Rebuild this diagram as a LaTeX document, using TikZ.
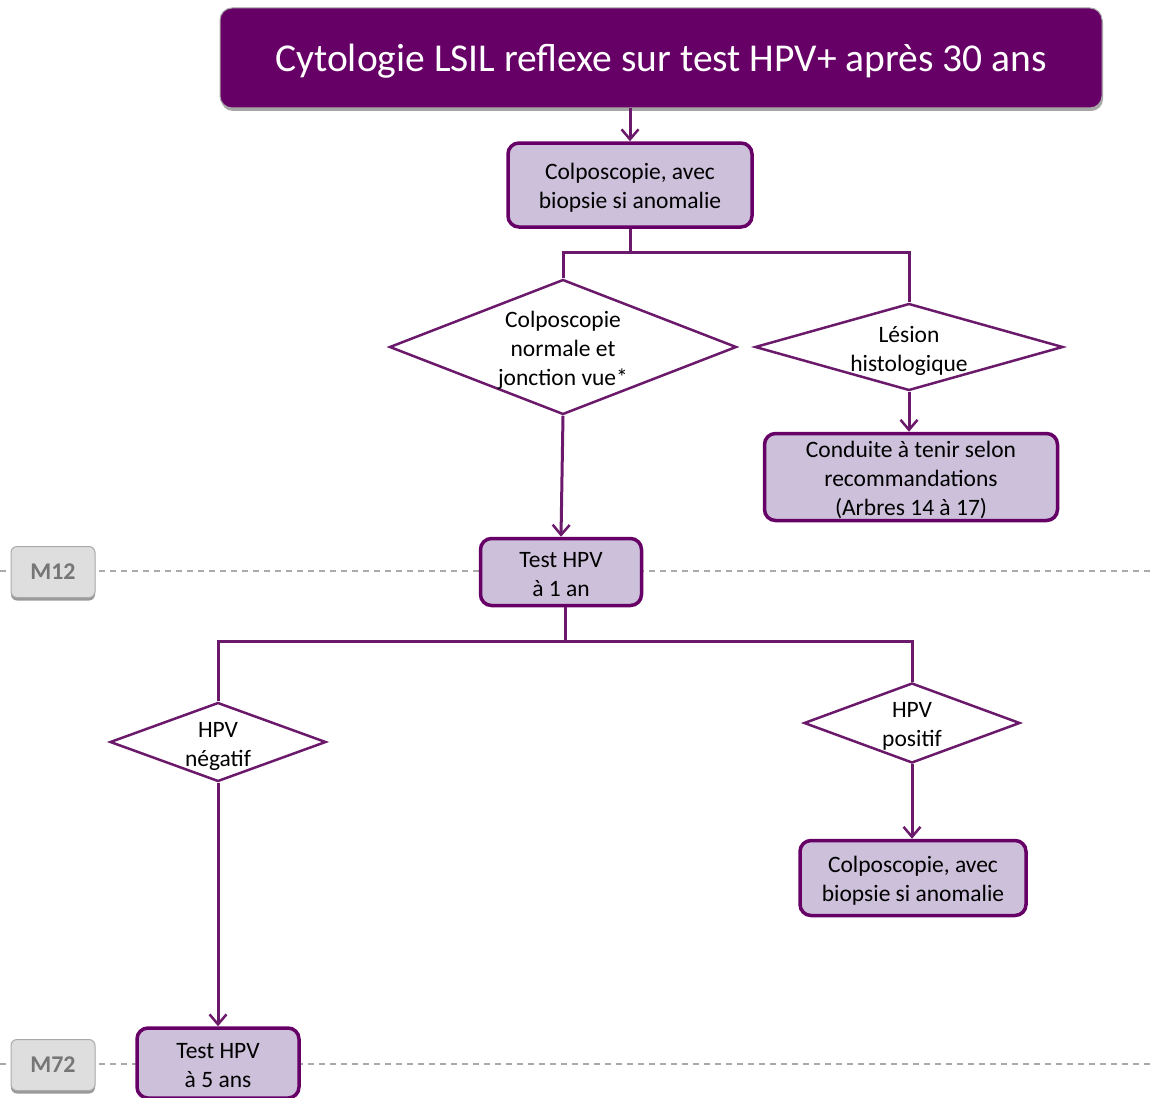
\documentclass[tikz,border=0pt]{standalone}
\usepackage{fontspec}
\setmainfont{Carlito}
\usetikzlibrary{arrows.meta,shapes.geometric,shadows}
\definecolor{pdark}{HTML}{660066}
\definecolor{pline}{HTML}{6B1A6B}
\definecolor{pfill}{HTML}{CCC0DA}
\definecolor{gfill}{HTML}{DEDEDE}
\definecolor{gdraw}{HTML}{AAAAAA}
\definecolor{gtext}{HTML}{767676}
\tikzset{
  titlebox/.style={draw=gdraw, line width=1pt, fill=pdark, rounded corners=12pt, text=white,
    font=\fontsize{39.5}{44}\selectfont, minimum width=882pt, minimum height=100pt,
    text height=33pt, inner sep=0pt,
    drop shadow={shadow xshift=1pt, shadow yshift=-3pt, fill=gray!70, opacity=1}},
  pbox/.style={draw=pdark, line width=3.5pt, fill=pfill, rounded corners=11pt, inner sep=0pt},
  pdiam/.style={diamond, draw=pline, line width=2.5pt, fill=white, inner sep=0pt},
  ntext/.style={align=center, font=\fontsize{23.5}{29}\selectfont, inner sep=0pt},
  mlabel/.style={draw=gdraw, line width=1pt, fill=gfill, rounded corners=6pt, text=gtext,
    font=\fontsize{24}{28}\bfseries\selectfont, minimum width=84pt, minimum height=51pt,
    drop shadow={shadow xshift=0pt, shadow yshift=-3pt, fill=gray!80, opacity=1}},
  conn/.style={draw=pline, line width=3pt},
  arr/.style={conn, -{Straight Barb[length=10pt,width=17pt,line width=2.5pt]}},
  mline/.style={draw=gdraw, line width=1.5pt, dash pattern=on 6pt off 5pt},
}
\begin{document}
\begin{tikzpicture}[x=1pt,y=-1pt]
\useasboundingbox (0,0) rectangle (1153,1097);
% milestone dashed lines
\coordinate (m12l) at (0,571);
\coordinate (m12r) at (1153,571);
\coordinate (m72l) at (0,1064);
\coordinate (m72r) at (1153,1064);
\draw[mline] (m12l) -- (m12r);
\draw[mline] (m72l) -- (m72r);
\node[mlabel] (m12) at (53,572) {M12};
\node[mlabel] (m72) at (53,1065) {M72};

\node[titlebox] (title) at (661,58) {Cytologie LSIL reflexe sur test HPV+ après 30 ans};

\node[pbox, minimum width=244pt, minimum height=84pt] (b1) at (630,185) {};
\node[ntext] (b1t) at (630,188) {Colposcopie, avec\\biopsie si anomalie};

\node[pdiam, minimum width=347pt, minimum height=135pt] (d1) at (563,347) {};
\node[ntext] (d1t) at (563,350) {Colposcopie\\normale et\\jonction vue*};
\node[pdiam, minimum width=308pt, minimum height=87pt] (d2) at (909,347) {};
\node[ntext] (d2t) at (909,350.5) {Lésion\\histologique};

\node[pbox, minimum width=293pt, minimum height=87pt] (b2) at (911,477) {};
\node[ntext] (b2t) at (911,480) {Conduite à tenir selon\\recommandations\\(Arbres 14 à 17)};
\node[pbox, minimum width=161pt, minimum height=67pt] (t1) at (561,572) {};
\node[ntext] (t1t) at (561,575) {Test HPV\\à 1 an};

\node[pdiam, minimum width=216pt, minimum height=79pt] (d3) at (218,742) {};
\node[ntext] (d3t) at (218,746) {HPV\\négatif};
\node[pdiam, minimum width=216pt, minimum height=80pt] (d4) at (912,723) {};
\node[ntext] (d4t) at (912,726) {HPV\\positif};

\node[pbox, minimum width=226pt, minimum height=75pt] (b3) at (913,878) {};
\node[ntext] (b3t) at (913,881) {Colposcopie, avec\\biopsie si anomalie};
\node[pbox, minimum width=162pt, minimum height=70pt] (t5) at (218,1063) {};
\node[ntext] (t5t) at (218,1066) {Test HPV\\à 5 ans};

% connectors
\coordinate (s1) at (630,252);
\coordinate (s2) at (565,641);
\draw[arr] (title.south -| b1.north) -- (b1.north);
\draw[conn] (b1.south) -- (s1) -| (d1.north);
\draw[conn] (s1) -| (d2.north);
\draw[arr] (d2.south) -- (d2.south |- b2.north);
\draw[arr] (d1.south) -- (t1.north);
\draw[conn] (t1.south -| s2) -- (s2) -| (d3.north);
\draw[conn] (s2) -| (d4.north);
\draw[arr] (d4.south) -- (d4.south |- b3.north);
\draw[arr] (d3.south) -- (t5.north);
\end{tikzpicture}
\end{document}
